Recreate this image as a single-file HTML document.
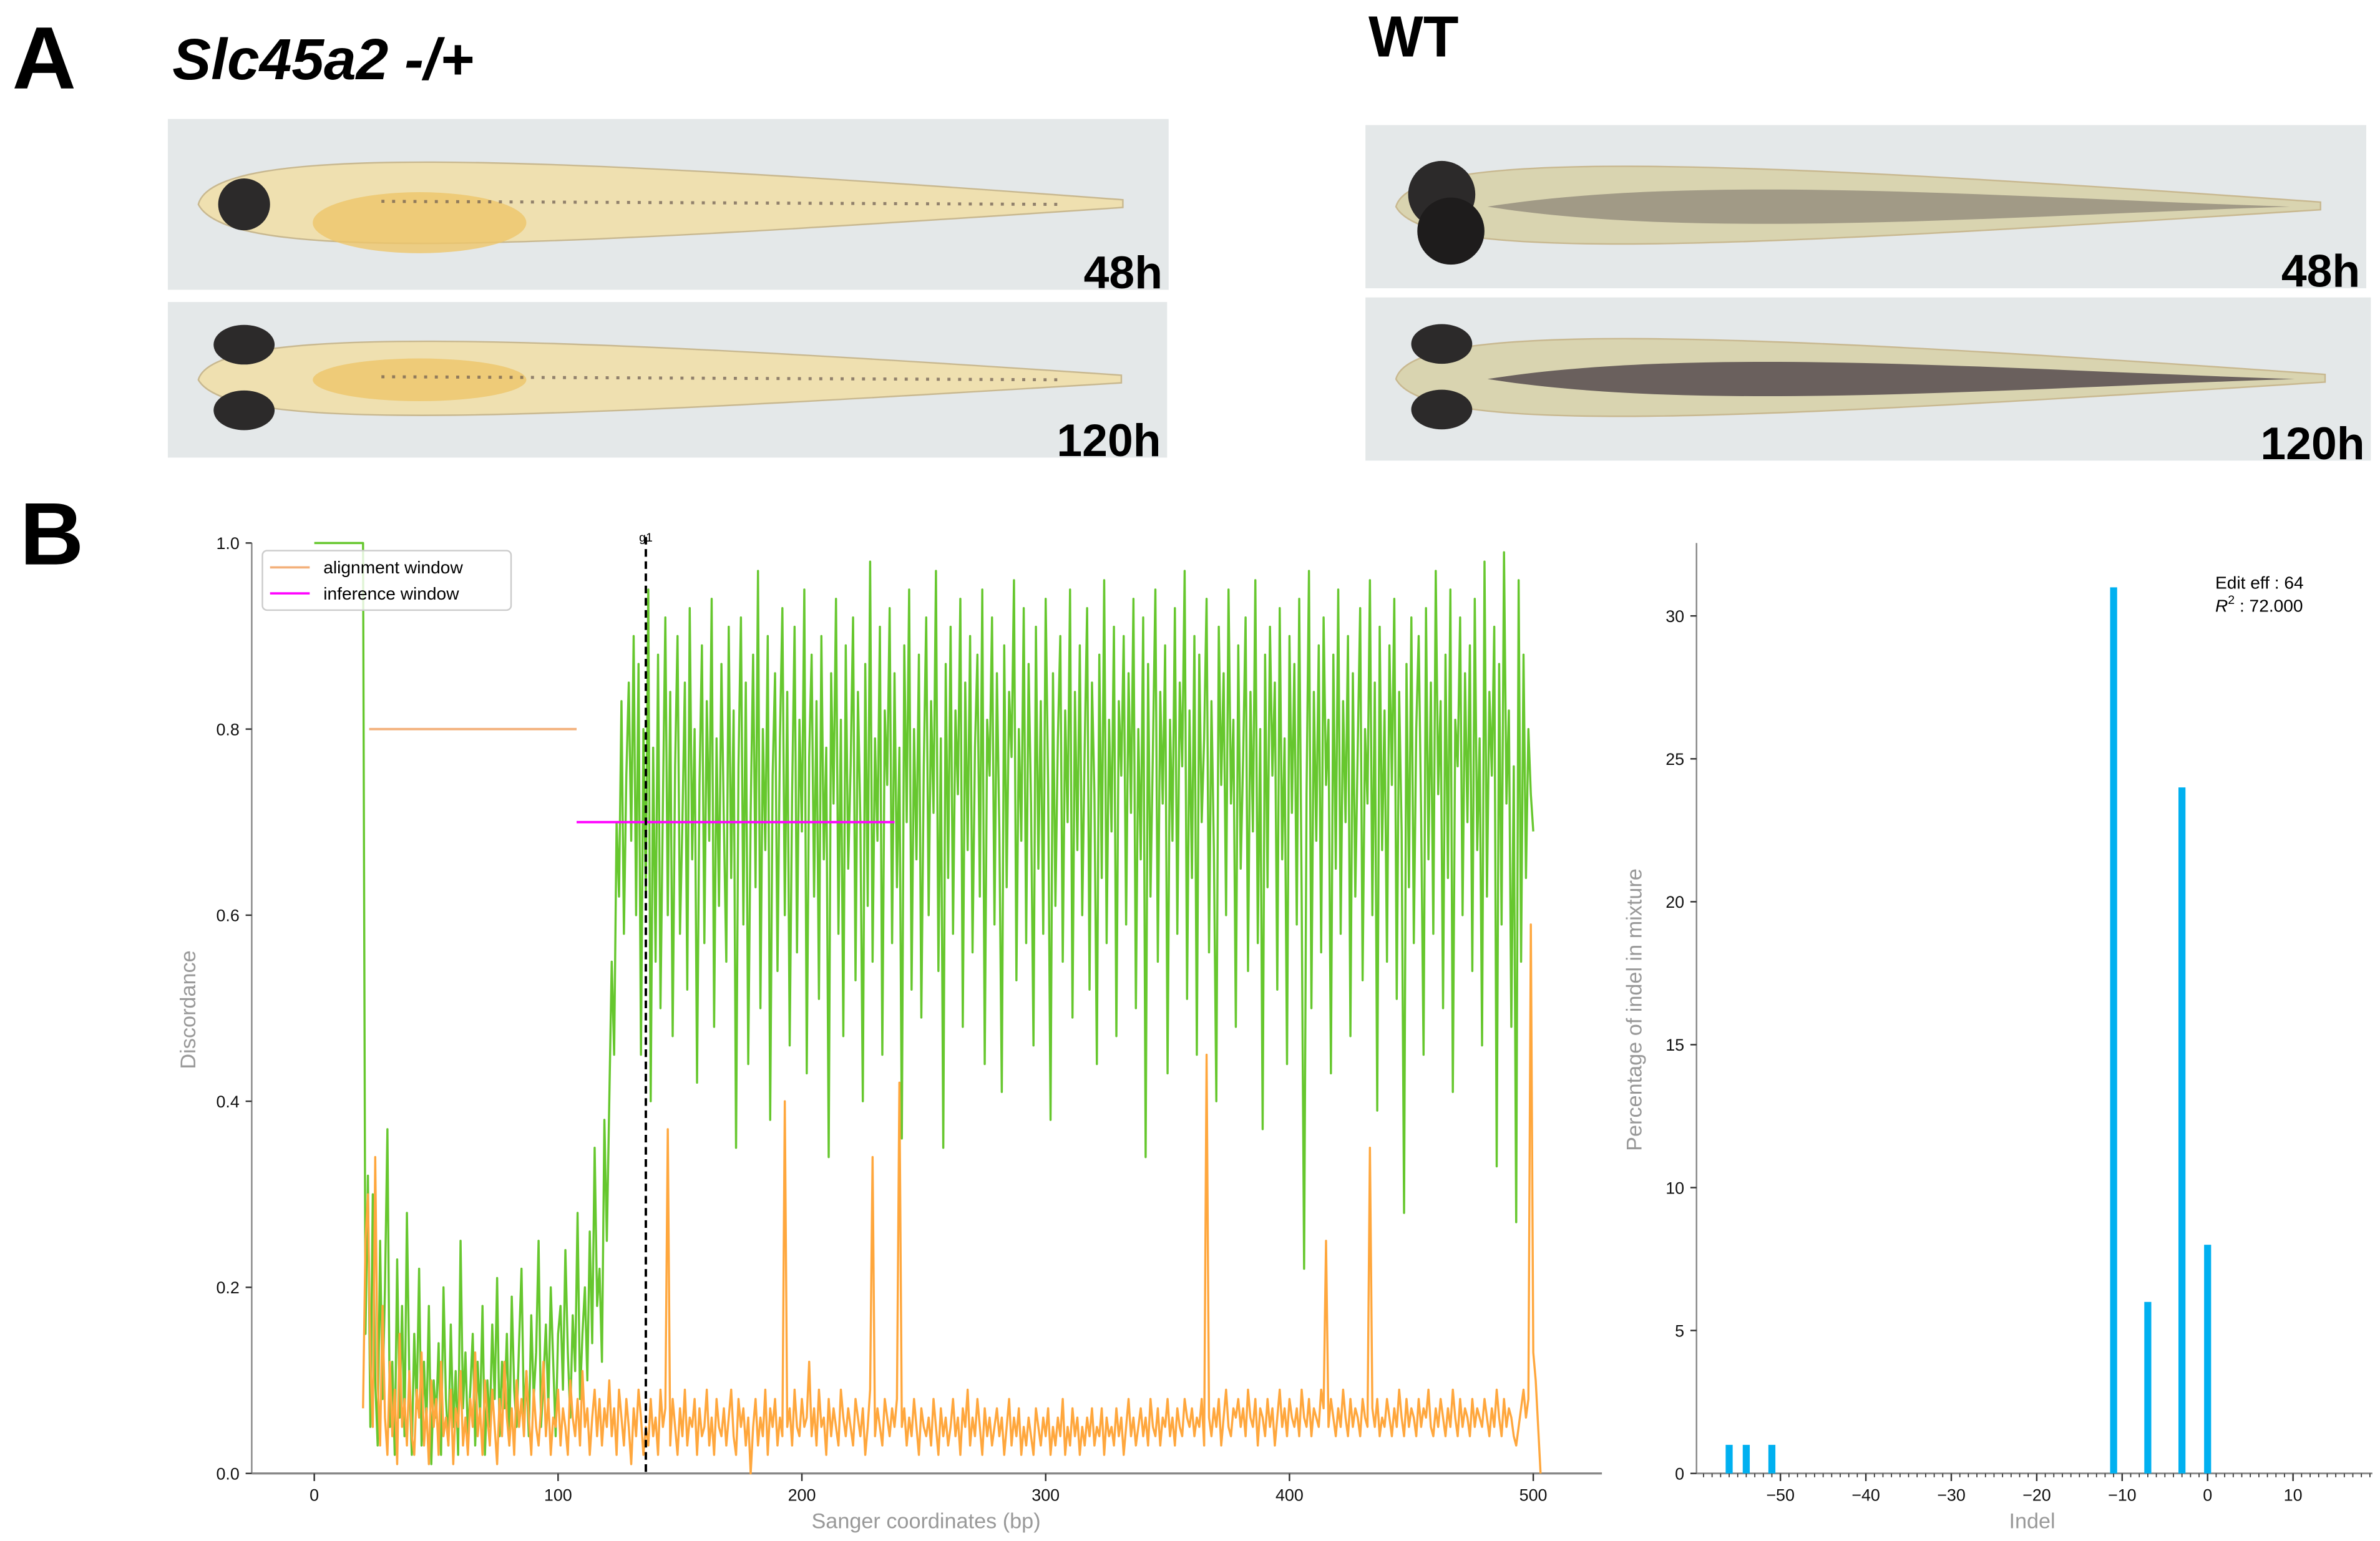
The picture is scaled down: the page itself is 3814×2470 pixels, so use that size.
<!DOCTYPE html>
<html><head><meta charset="utf-8"><style>
html,body{margin:0;padding:0;background:#fff}
svg{display:block}
text{font-family:"Liberation Sans","DejaVu Sans",sans-serif}
</style></head><body>
<svg id="fig" width="3814" height="2470" viewBox="0 0 1560 1010.3" preserveAspectRatio="none" xmlns="http://www.w3.org/2000/svg">
<rect width="1560" height="1011" fill="#fff"/>
<text x="8" y="58" font-size="58" font-weight="bold">A</text>
<text x="113" y="52" font-size="38" font-weight="bold" font-style="italic">Slc45a2 -/+</text>
<text x="897" y="37" font-size="38" font-weight="bold">WT</text>
<g id="fish"></g>
<text x="13" y="370" font-size="58" font-weight="bold">B</text>
<g id="left"></g>
<g id="right"></g>
</svg>
<script>
const NS="http://www.w3.org/2000/svg";
function mk(p,tag,attrs,txt){const e=document.createElementNS(NS,tag);for(const k in attrs)e.setAttribute(k,attrs[k]);if(txt!==undefined)e.textContent=txt;p.appendChild(e);return e;}

// ---------- Fish panels ----------
const fishG=document.getElementById('fish');
const panels=[
 {x:110,y:78,w:656,h:112,label:"48h",wt:false,side:true},
 {x:110,y:198,w:655,h:102,label:"120h",wt:false,side:false},
 {x:895,y:82,w:656,h:107,label:"48h",wt:true,side:true},
 {x:895,y:195,w:659,h:107,label:"120h",wt:true,side:false}
];
panels.forEach((p,i)=>{
 const g=mk(fishG,'g',{});
 
 
 mk(g,'rect',{x:p.x,y:p.y,width:p.w,height:p.h,fill:'#e4e8e9'});
 const cy=p.y+p.h*0.5, x0=p.x+20, x1=p.x+p.w-30;
 const body=p.wt?'#d9d4b0':'#efe0b0';
 mk(g,'path',{d:`M${x0} ${cy} C ${x0+10} ${cy-p.h*0.35}, ${x0+200} ${cy-p.h*0.3}, ${x1} ${cy-3} L ${x1} ${cy+2} C ${x0+220} ${cy+p.h*0.25}, ${x0+20} ${cy+p.h*0.35}, ${x0} ${cy} Z`,fill:body,stroke:'#c8b890','stroke-width':1});
 if(!p.wt) mk(g,'ellipse',{cx:x0+145,cy:cy+(p.side?12:0),rx:70,ry:p.side?20:14,fill:'#eec56a',opacity:0.8});
 if(p.wt){
  mk(g,'path',{d:`M${x0+60} ${cy} C ${x0+200} ${cy-22}, ${x0+400} ${cy-6}, ${x1-20} ${cy} C ${x0+400} ${cy+6}, ${x0+200} ${cy+22}, ${x0+60} ${cy} Z`,fill:'#3a2f3a',opacity:p.side?0.35:0.7});
 } else {
  mk(g,'path',{d:`M${x0+120} ${cy-2} L ${x1-40} ${cy}`,stroke:'#6a5a50','stroke-width':2,'stroke-dasharray':'2 5',opacity:0.7});
 }
 if(p.side){
  mk(g,'circle',{cx:x0+30,cy:cy+(p.wt?-8:0),r:p.wt?22:17,fill:'#2c2a2a'});
  if(p.wt) mk(g,'circle',{cx:x0+36,cy:cy+16,r:22,fill:'#1e1c1c'});
 } else {
  mk(g,'ellipse',{cx:x0+30,cy:cy-23,rx:20,ry:13,fill:'#2c2a2a'});
  mk(g,'ellipse',{cx:x0+30,cy:cy+20,rx:20,ry:13,fill:'#2c2a2a'});
 }
 const t=mk(g,'text',{x:p.x+p.w-4,y:p.y+p.h-1,'font-size':30,'font-weight':'bold','text-anchor':'end'},p.label);
 
 
});

// ---------- Discordance chart data ----------
const bpStart=20;
const g1Position=136;
const alignWindow=[22.5,107.6];
const alignLevel=0.8;
const inferWindow=[107.6,238];
const inferLevel=0.7;
const xTicks=[0,100,200,300,400,500];
const yTicks=[0.0,0.2,0.4,0.6,0.8,1.0];
const greenLow=[1.0,.15,.32,.05,.30,.10,.03,.25,.08,.20,.37,.05,.12,.02,.23,.06,.18,.04,.28,.10,.02,.15,.07,.22,.03,.12,.05,.18,.01,.10,.06,.14,.02,.20,.08,.03,.16,.05,.11,.02,.25,.07,.13,.04,.09,.15,.03,.12,.06,.18,.02,.10,.05,.16,.08,.21,.04,.12,.07,.15,.03,.19,.09,.05,.14,.22,.06,.11,.04,.17,.08,.13,.25,.05,.10,.16,.07,.20,.12,.04,.15,.18,.09,.24,.13,.06,.17,.11,.28,.08,.15,.20,.10,.26,.14,.35,.18,.22,.12,.38,.25,.40,.55,.45,.70,.62,.83,.58,.75,.85,.68,.90,.60];
const greenHigh=[.87,.45,.80,.62,.95,.40,.78,.55,.88,.50,.72,.92,.60,.84,.47,.76,.90,.58,.70,.85,
.52,.93,.66,.80,.42,.74,.89,.57,.83,.68,.94,.48,.79,.61,.87,.70,.55,.91,.64,.82,
.35,.76,.92,.59,.85,.44,.71,.88,.63,.97,.50,.80,.67,.90,.38,.75,.86,.54,.79,.93,
.60,.84,.46,.73,.91,.56,.81,.69,.95,.43,.77,.88,.62,.83,.51,.90,.66,.78,.34,.86,
.72,.94,.58,.81,.47,.89,.65,.76,.92,.53,.84,.70,.40,.87,.61,.98,.55,.79,.68,.91,
.45,.82,.74,.93,.57,.86,.63,.78,.36,.89,.70,.95,.52,.80,.66,.88,.49,.76,.92,.60,
.83,.71,.97,.54,.79,.35,.87,.64,.91,.58,.82,.73,.94,.48,.85,.67,.90,.56,.78,.88,
.62,.95,.44,.81,.75,.92,.59,.86,.69,.41,.89,.63,.84,.77,.96,.53,.80,.68,.93,.57,
.87,.72,.46,.91,.65,.83,.58,.94,.74,.38,.86,.61,.79,.90,.55,.82,.70,.95,.49,.84,
.67,.89,.60,.78,.93,.52,.85,.73,.44,.88,.64,.96,.57,.81,.69,.91,.47,.83,.75,.90,
.59,.86,.71,.94,.50,.80,.66,.92,.34,.87,.62,.78,.95,.55,.84,.72,.89,.43,.81,.68,
.93,.58,.85,.76,.97,.51,.82,.64,.90,.45,.88,.70,.79,.94,.56,.83,.67,.40,.91,.74,
.86,.60,.95,.72,.81,.48,.89,.65,.77,.92,.54,.84,.69,.96,.57,.80,.37,.88,.63,.91,
.75,.85,.52,.93,.66,.79,.44,.90,.71,.87,.59,.94,.62,.22,.73,.97,.50,.84,.68,.89,
.56,.92,.74,.81,.43,.88,.65,.95,.58,.83,.70,.90,.47,.86,.62,.78,.93,.53,.80,.72,
.96,.60,.85,.39,.91,.67,.82,.55,.89,.74,.94,.51,.84,.69,.28,.87,.63,.92,.57,.80,
.90,.71,.45,.93,.66,.85,.58,.97,.73,.83,.50,.88,.64,.95,.41,.81,.76,.92,.60,.86,
.70,.89,.54,.94,.67,.79,.46,.98,.62,.84,.75,.91,.33,.87,.59,.99,.72,.82,.48,.76,
.27,.96,.55,.88,.64,.80,.73,.69];
const orange=[.07,.25,.30,.12,.05,.34,.10,.03,.18,.06,.02,.12,.04,.09,.01,.15,.05,.08,.03,.11,
.04,.02,.09,.06,.13,.03,.07,.01,.10,.05,.08,.02,.12,.04,.06,.03,.09,.01,.07,.05,
.11,.03,.06,.02,.08,.05,.13,.04,.07,.02,.10,.06,.03,.09,.05,.01,.08,.04,.12,.06,
.03,.07,.02,.10,.05,.08,.04,.11,.06,.02,.09,.05,.03,.07,.12,.04,.08,.02,.06,.05,
.09,.03,.07,.05,.02,.10,.06,.04,.08,.03,.11,.05,.07,.02,.06,.09,.04,.08,.03,.07,
.05,.10,.04,.07,.02,.09,.06,.03,.08,.05,.01,.07,.04,.09,.06,.02,.05,.03,.08,.04,
.06,.02,.09,.05,.07,.37,.03,.08,.05,.02,.07,.04,.09,.03,.06,.05,.08,.02,.07,.04,
.05,.09,.03,.06,.02,.08,.05,.04,.07,.03,.06,.09,.04,.02,.08,.05,.07,.03,.06,.00,
.05,.08,.03,.06,.04,.09,.02,.07,.05,.08,.03,.06,.04,.40,.05,.07,.03,.09,.05,.04,
.08,.05,.06,.12,.04,.07,.03,.09,.05,.06,.02,.08,.04,.07,.05,.03,.09,.06,.04,.07,
.05,.03,.08,.06,.04,.07,.02,.05,.09,.34,.04,.07,.05,.03,.08,.06,.04,.07,.05,.08,
.42,.05,.07,.03,.06,.04,.08,.05,.02,.07,.05,.04,.06,.03,.08,.05,.02,.07,.04,.06,
.03,.05,.08,.04,.06,.02,.07,.05,.09,.03,.06,.04,.08,.05,.02,.07,.04,.06,.03,.05,
.07,.04,.06,.02,.05,.08,.03,.06,.04,.07,.02,.05,.03,.06,.04,.02,.07,.05,.03,.06,
.04,.07,.02,.05,.03,.06,.04,.08,.02,.05,.03,.07,.04,.06,.02,.05,.03,.06,.04,.07,
.03,.05,.04,.07,.02,.06,.04,.05,.03,.07,.04,.06,.02,.05,.08,.04,.06,.03,.05,.07,
.04,.06,.03,.08,.05,.04,.07,.03,.06,.05,.08,.04,.06,.03,.07,.05,.04,.08,.06,.05,
.07,.04,.06,.05,.08,.03,.45,.06,.04,.07,.05,.08,.03,.06,.09,.05,.04,.07,.06,.08,
.05,.07,.04,.09,.06,.05,.08,.03,.07,.06,.04,.08,.05,.07,.03,.06,.09,.05,.07,.04,
.08,.06,.05,.07,.04,.09,.06,.05,.08,.04,.07,.06,.05,.09,.07,.25,.05,.08,.06,.04,
.07,.05,.09,.06,.04,.08,.05,.07,.06,.04,.08,.06,.05,.35,.07,.05,.08,.04,.06,.05,
.08,.06,.04,.07,.05,.09,.06,.04,.08,.05,.07,.06,.04,.08,.05,.07,.06,.09,.05,.04,
.07,.05,.08,.06,.04,.07,.05,.09,.06,.04,.08,.05,.07,.06,.04,.08,.05,.07,.06,.05,
.08,.06,.04,.07,.05,.09,.06,.04,.08,.05,.07,.06,.04,.03,.05,.07,.09,.06,.08,.59,
.13,.10,.05,.00];

// ---------- Indel chart data ----------
const indels=[-56,-54,-51,-11,-7,-3,0];
const percents=[1,1,1,31,6,24,8];
const rxTicks=[-50,-40,-30,-20,-10,0,10];
const ryTicks=[0,5,10,15,20,25,30];

// ---------- Left chart ----------
const L=document.getElementById('left');
const lx=v=>206+v*1.598, ly=v=>966-v*610;
mk(L,'line',{x1:165,y1:356,x2:165,y2:966,stroke:'#888','stroke-width':1});
mk(L,'line',{x1:165,y1:966,x2:1050,y2:966,stroke:'#888','stroke-width':1.4});
yTicks.forEach(t=>{
 const tk=mk(L,'line',{x1:161,y1:ly(t),x2:165,y2:ly(t),stroke:'#333','stroke-width':1});
 
 
 const tl=mk(L,'text',{x:157,y:ly(t)+4,'font-size':11,'text-anchor':'end',fill:'#111'},t.toFixed(1));
 
 
});
xTicks.forEach(t=>{
 mk(L,'line',{x1:lx(t),y1:966,x2:lx(t),y2:971,stroke:'#333','stroke-width':1});
 const tl=mk(L,'text',{x:lx(t),y:984,'font-size':11,'text-anchor':'middle',fill:'#111'},String(t));
 
 
});
const xl=mk(L,'text',{x:607,y:1002,'font-size':14,'text-anchor':'middle',fill:'#999'},'Sanger coordinates (bp)');


const yl=mk(L,'text',{x:128,y:662,'font-size':14,'text-anchor':'middle',fill:'#999',transform:'rotate(-90 128 662)'},'Discordance');



const green=greenLow.concat(greenHigh);
let gp=`M${lx(0)} ${ly(1)}`;
green.forEach((v,i)=>{gp+=` L${lx(bpStart+i).toFixed(2)} ${ly(v).toFixed(2)}`;});
const gl=mk(L,'path',{d:gp,fill:'none',stroke:'#66c72e','stroke-width':1.4,'stroke-linejoin':'round'});


let op='';
orange.forEach((v,i)=>{op+=(i?' L':'M')+lx(bpStart+i).toFixed(2)+' '+ly(v).toFixed(2);});
const ol=mk(L,'path',{d:op,fill:'none',stroke:'#ffa73d','stroke-width':1.4,'stroke-linejoin':'round'});



const aw=mk(L,'line',{x1:lx(alignWindow[0]),y1:ly(alignLevel),x2:lx(alignWindow[1]),y2:ly(alignLevel),stroke:'#f3b07a','stroke-width':1.5});


const iw=mk(L,'line',{x1:lx(inferWindow[0]),y1:ly(inferLevel),x2:lx(inferWindow[1]),y2:ly(inferLevel),stroke:'#ff00ff','stroke-width':1.5});


const g1=mk(L,'line',{x1:lx(g1Position),y1:ly(1.0)-4,x2:lx(g1Position),y2:966,stroke:'#000','stroke-width':1.6,'stroke-dasharray':'5 3'});


const g1t=mk(L,'text',{x:lx(g1Position),y:355,'font-size':8,'text-anchor':'middle'},'g1');



const lg=mk(L,'g',{});


mk(lg,'rect',{x:172,y:361,width:163,height:39,rx:3,fill:'#fff','fill-opacity':0.8,stroke:'#ccc','stroke-width':1});
mk(lg,'line',{x1:177,y1:372,x2:203,y2:372,stroke:'#f3b07a','stroke-width':1.5});
const le1=mk(lg,'text',{x:212,y:376,'font-size':11.5},'alignment window');


mk(lg,'line',{x1:177,y1:389,x2:203,y2:389,stroke:'#ff00ff','stroke-width':1.5});
const le2=mk(lg,'text',{x:212,y:393,'font-size':11.5},'inference window');



// ---------- Right chart ----------
const R=document.getElementById('right');
const rx=v=>1447+v*5.6, ry=v=>966-v*18.74;
mk(R,'line',{x1:1112,y1:356,x2:1112,y2:966,stroke:'#888','stroke-width':1});
mk(R,'line',{x1:1112,y1:966,x2:1555,y2:966,stroke:'#888','stroke-width':1.2});
ryTicks.forEach(t=>{
 mk(R,'line',{x1:1108,y1:ry(t),x2:1112,y2:ry(t),stroke:'#333','stroke-width':1});
 const tl=mk(R,'text',{x:1104,y:ry(t)+4,'font-size':11,'text-anchor':'end',fill:'#111'},String(t));
 
 
});
for(let v=-59;v<=19;v++){mk(R,'line',{x1:rx(v),y1:966,x2:rx(v),y2:968.5,stroke:'#333','stroke-width':0.7});}
rxTicks.forEach(t=>{
 mk(R,'line',{x1:rx(t),y1:966,x2:rx(t),y2:971,stroke:'#333','stroke-width':1});
 const tl=mk(R,'text',{x:rx(t),y:984,'font-size':11,'text-anchor':'middle',fill:'#111'},t<0?'\u2212'+Math.abs(t):String(t));
 
 
});
indels.forEach((d,i)=>{
 const b=mk(R,'rect',{x:rx(d)-2.3,y:ry(percents[i]),width:4.6,height:ry(0)-ry(percents[i]),fill:'#00b0f0'});
 
 
});
const rxl=mk(R,'text',{x:1332,y:1002,'font-size':14,'text-anchor':'middle',fill:'#999'},'Indel');


const ryl=mk(R,'text',{x:1076,y:662,'font-size':14,'text-anchor':'middle',fill:'#999',transform:'rotate(-90 1076 662)'},'Percentage of indel in mixture');


const e1=mk(R,'text',{x:1452,y:386,'font-size':11.5},'Edit eff : 64');


const e2=mk(R,'text',{x:1452,y:401,'font-size':11.5});


mk(e2,'tspan',{'font-style':'italic'},'R');
mk(e2,'tspan',{dy:-5,'font-size':8},'2');
mk(e2,'tspan',{dy:5},' : 72.000');
</script>
</body></html>
